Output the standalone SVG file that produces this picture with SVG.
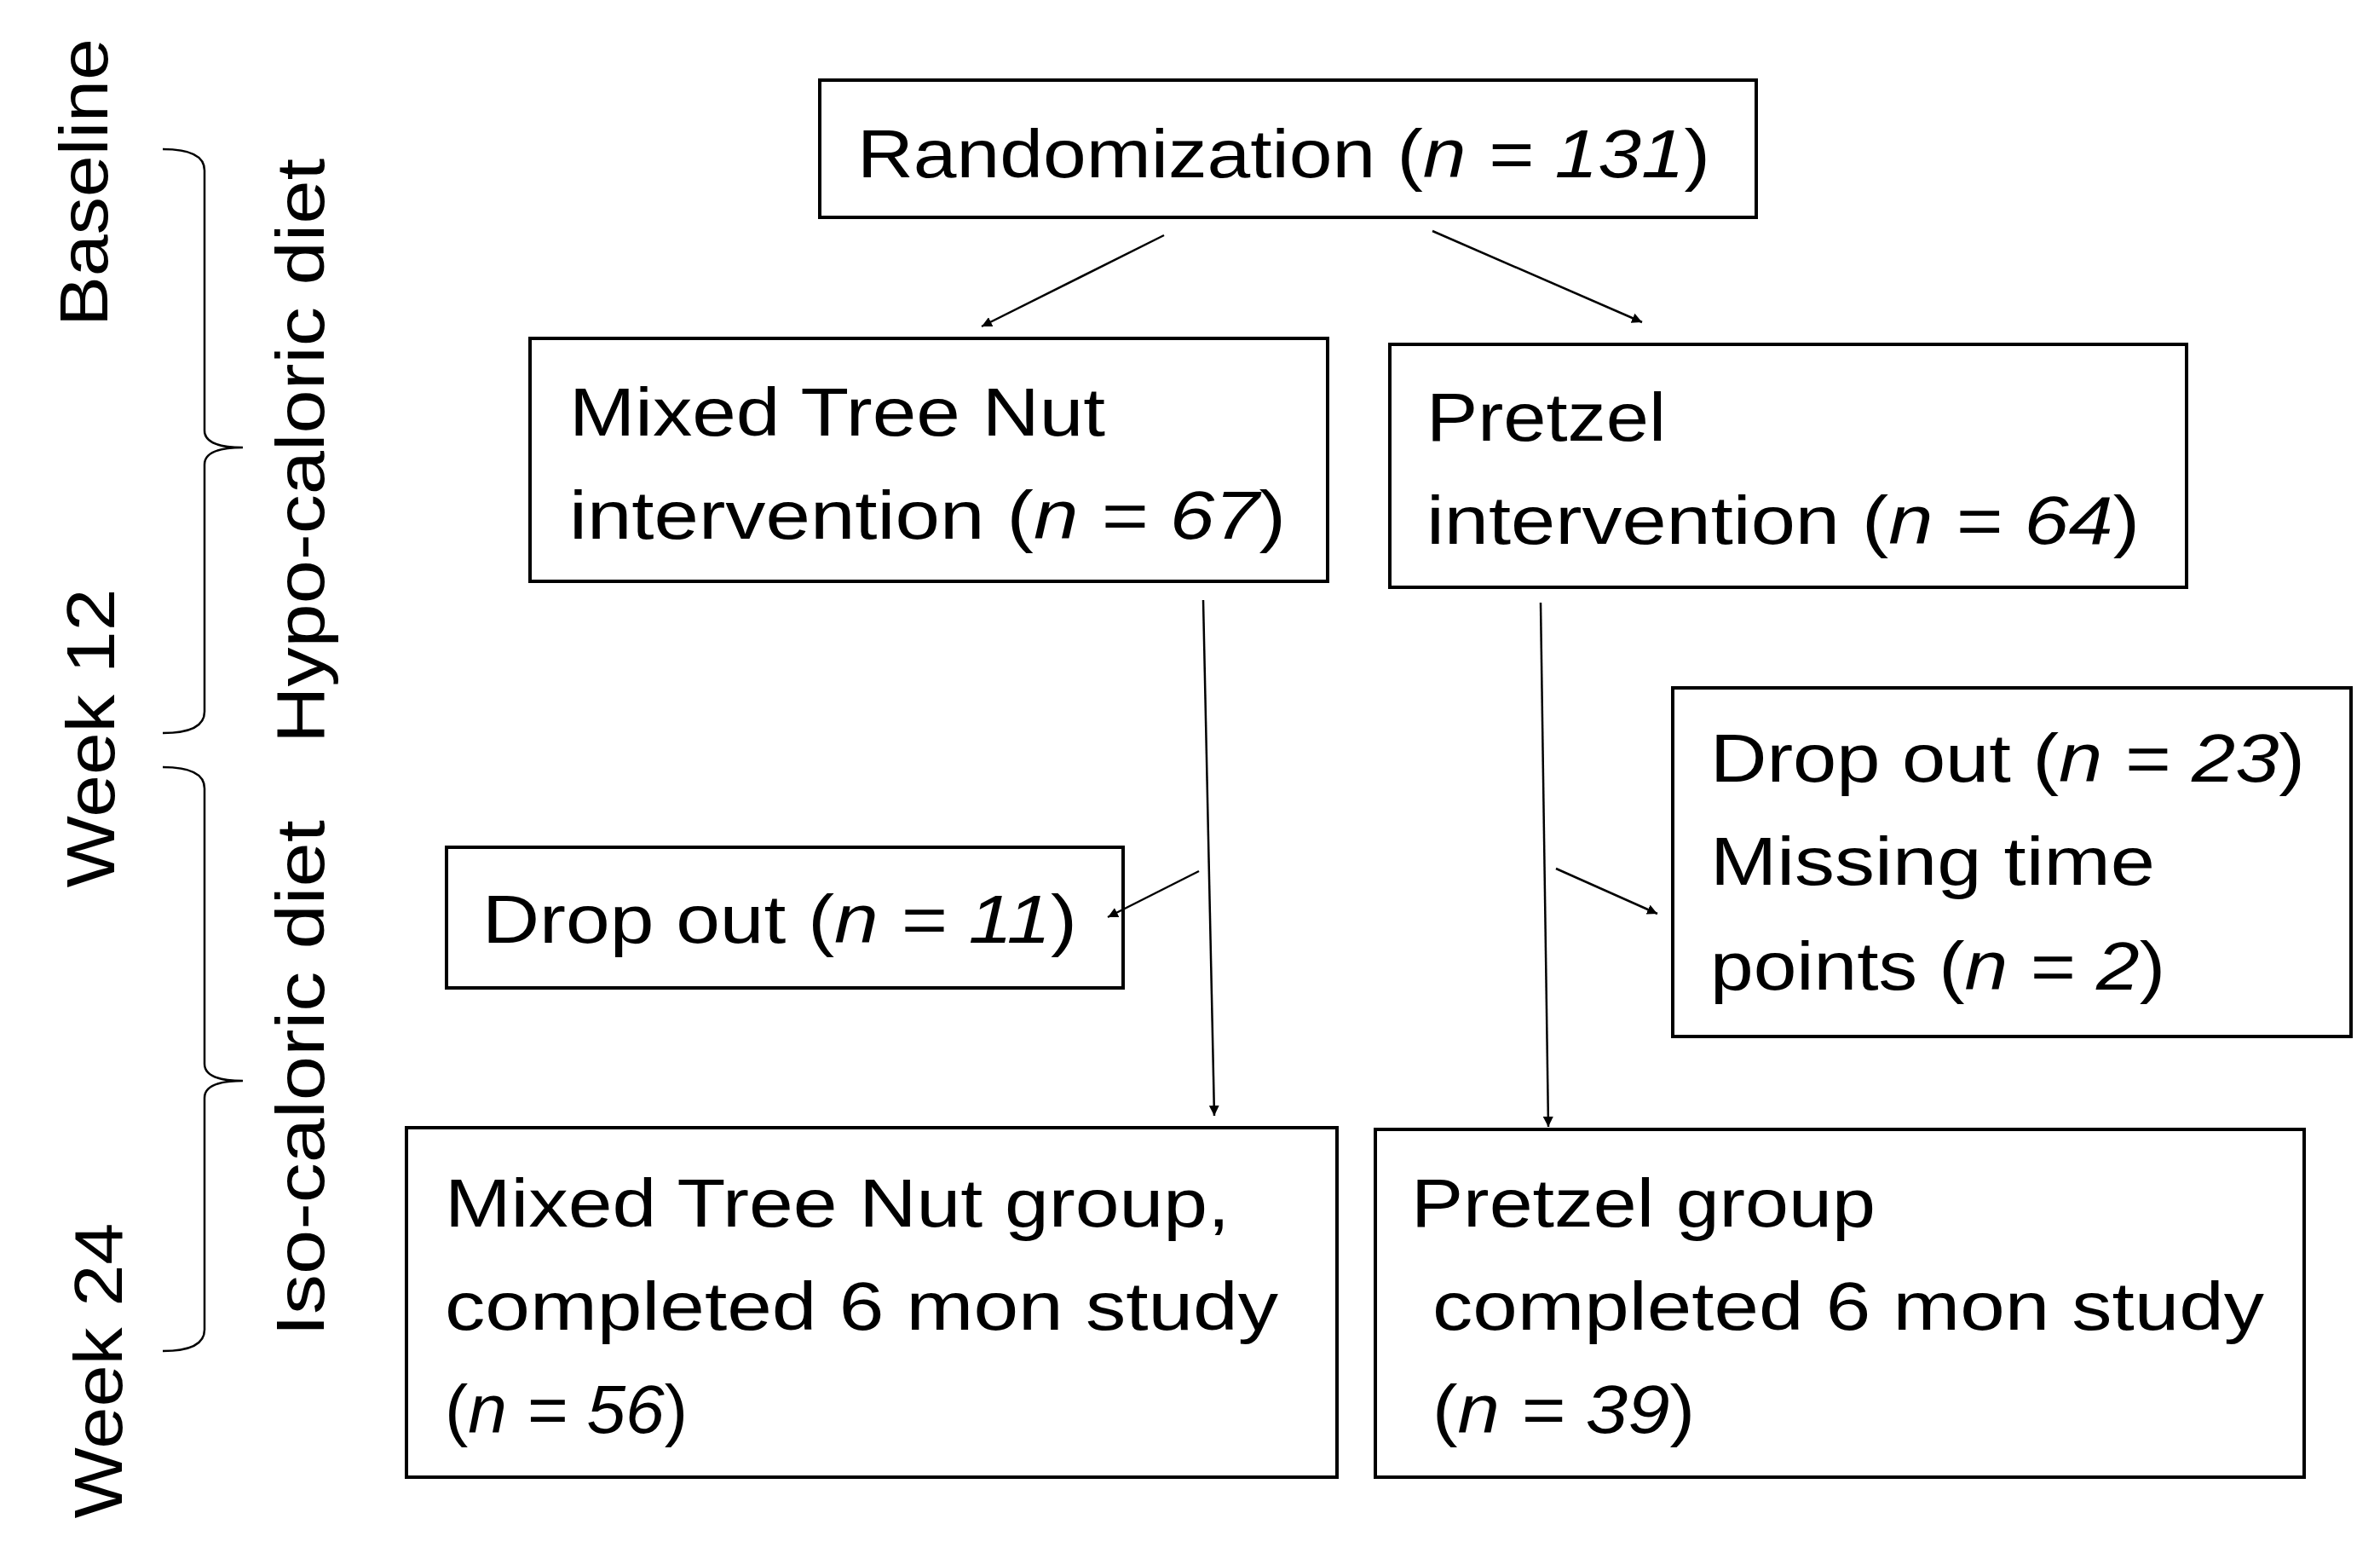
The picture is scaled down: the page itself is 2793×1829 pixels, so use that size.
<svg xmlns="http://www.w3.org/2000/svg" width="2793" height="1829" viewBox="0 0 2793 1829">
<style>
rect.b{fill:#fff;stroke:#000;stroke-width:4}
text{font-family:"Liberation Sans",Arial,sans-serif;font-size:80px;fill:#000}
.i{font-style:italic}
.c line{stroke:#000;stroke-width:2.5;marker-end:url(#a)}
</style>
<defs><marker id="a" viewBox="0 0 10 10" refX="10" refY="5" markerWidth="12" markerHeight="12" markerUnits="userSpaceOnUse" orient="auto"><path d="M0,0L10,5L0,10z"/></marker>
<marker id="a2" viewBox="0 0 10 10" refX="10" refY="5" markerWidth="30" markerHeight="30" markerUnits="userSpaceOnUse" orient="auto"><path d="M0,1L10,5L0,9z"/></marker></defs>
<rect width="2793" height="1829" fill="#fff"/>
<g id="labels">
<text transform="translate(126,214) rotate(-90)" text-anchor="middle" textLength="338" lengthAdjust="spacingAndGlyphs">Baseline</text>
<text transform="translate(134,866) rotate(-90)" text-anchor="middle" textLength="351" lengthAdjust="spacingAndGlyphs">Week 12</text>
<text transform="translate(143,1608) rotate(-90)" text-anchor="middle" textLength="347" lengthAdjust="spacingAndGlyphs">Week 24</text>
<text transform="translate(380,529) rotate(-90)" text-anchor="middle" textLength="686" lengthAdjust="spacingAndGlyphs">Hypo-caloric diet</text>
<text transform="translate(380,1265) rotate(-90)" text-anchor="middle" textLength="606" lengthAdjust="spacingAndGlyphs">Iso-caloric diet</text>
<path d="M191,175 Q240,175 240,200 L240,505 Q240,525 285,525 Q240,525 240,545 L240,835 Q240,860 191,860" fill="none" stroke="#000" stroke-width="2.5"/>
<path d="M191,900 Q240,900 240,925 L240,1248 Q240,1268 285,1268 Q240,1268 240,1288 L240,1560 Q240,1585 191,1585" fill="none" stroke="#000" stroke-width="2.5"/>
</g>
<g id="rand"><rect class="b" x="962" y="94" width="1099" height="161"/>
<text x="1006" y="208" textLength="1001" lengthAdjust="spacingAndGlyphs">Randomization (<tspan class="i">n = 131</tspan>)</text></g>
<g id="mtn"><rect class="b" x="622" y="397" width="936" height="285"/>
<text x="668" y="511" textLength="629" lengthAdjust="spacingAndGlyphs">Mixed Tree Nut</text>
<text x="668" y="632" textLength="841" lengthAdjust="spacingAndGlyphs">intervention (<tspan class="i">n = 67</tspan>)</text></g>
<g id="pretzel"><rect class="b" x="1631" y="404" width="935" height="285"/>
<text x="1674" y="517" textLength="281" lengthAdjust="spacingAndGlyphs">Pretzel</text>
<text x="1674" y="638" textLength="837" lengthAdjust="spacingAndGlyphs">intervention (<tspan class="i">n = 64</tspan>)</text></g>
<g id="drop11"><rect class="b" x="524" y="994" width="794" height="165"/>
<text x="566" y="1106" textLength="698" lengthAdjust="spacingAndGlyphs">Drop out (<tspan class="i">n = 11</tspan>)</text></g>
<g id="drop23"><rect class="b" x="1963" y="807" width="796" height="409"/>
<text x="2007" y="917" textLength="698" lengthAdjust="spacingAndGlyphs">Drop out (<tspan class="i">n = 23</tspan>)</text>
<text x="2007" y="1038" textLength="522" lengthAdjust="spacingAndGlyphs">Missing time</text>
<text x="2007" y="1161" textLength="534" lengthAdjust="spacingAndGlyphs">points (<tspan class="i">n = 2</tspan>)</text></g>
<g id="mtngroup"><rect class="b" x="477" y="1323" width="1092" height="410"/>
<text x="522" y="1439" textLength="921" lengthAdjust="spacingAndGlyphs">Mixed Tree Nut group,</text>
<text x="522" y="1560" textLength="978" lengthAdjust="spacingAndGlyphs">completed 6 mon study</text>
<text x="522" y="1681" textLength="285" lengthAdjust="spacingAndGlyphs">(<tspan class="i">n = 56</tspan>)</text></g>
<g id="pgroup"><rect class="b" x="1614" y="1325" width="1090" height="408"/>
<text x="1656" y="1439" textLength="545" lengthAdjust="spacingAndGlyphs">Pretzel group</text>
<text x="1681" y="1560" textLength="976" lengthAdjust="spacingAndGlyphs">completed 6 mon study</text>
<text x="1681" y="1681" textLength="308" lengthAdjust="spacingAndGlyphs">(<tspan class="i">n = 39</tspan>)</text></g>
<g class="c" id="connectors">
<line x1="1366" y1="276" x2="1152" y2="383" marker-end="url(#a2)"/>
<line x1="1681" y1="271" x2="1927" y2="378" marker-end="url(#a2)"/>
<line x1="1412" y1="704" x2="1425" y2="1309" marker-end="url(#a2)"/>
<line x1="1407" y1="1022" x2="1300" y2="1076" marker-end="url(#a2)"/>
<line x1="1808" y1="707" x2="1817" y2="1322" marker-end="url(#a2)"/>
<line x1="1826" y1="1019" x2="1945" y2="1072" marker-end="url(#a2)"/>
</g>
</svg>
